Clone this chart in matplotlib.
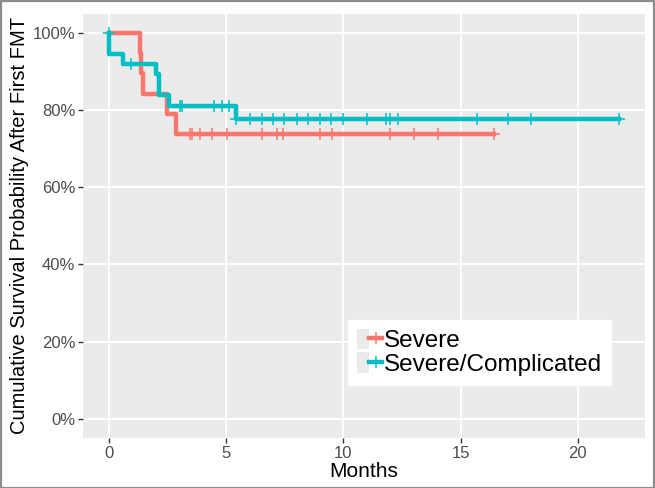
import numpy as np
import matplotlib
matplotlib.use("Agg")
import matplotlib.pyplot as plt
from matplotlib.lines import Line2D
from matplotlib.patches import Patch, Rectangle
from matplotlib.legend_handler import HandlerTuple
from matplotlib.ticker import FuncFormatter

plt.rcParams['font.family'] = ['Liberation Sans', 'DejaVu Sans']

# ---- data ----
groups = ["Severe", "Severe/Complicated"]
colors = ["#F8766D", "#00BFC4"]

sev_times = [0.0, 1.32, 1.38, 1.45, 2.47, 2.88]
sev_surv = [1.0, 0.947, 0.895, 0.842, 0.789, 0.737]
sev_end = 16.42
sev_cens = [3.48, 3.57, 3.91, 4.41, 5.06, 6.53, 7.17, 7.45, 9.02, 9.54,
            12.0, 13.0, 14.03, 16.42]

comp_times = [0.0, 0.02, 0.60, 2.03, 2.13, 2.57, 5.43]
comp_surv = [1.0, 0.946, 0.919, 0.892, 0.838, 0.811, 0.776]
comp_end = 21.77
comp_cens = [0.0, 0.97, 3.03, 3.15, 4.49, 4.82, 5.14, 5.45, 6.03, 6.53, 7.0,
             7.48, 8.02, 8.52, 8.99, 9.47, 9.99, 11.01, 11.84, 12.01, 12.34,
             15.71, 17.03, 17.99, 21.77]

x_ticks = [0, 5, 10, 15, 20]
y_ticks = [0, 0.2, 0.4, 0.6, 0.8, 1.0]

# ---- figure ----
fig = plt.figure(figsize=(6.55, 4.88), dpi=100)
ax = fig.add_axes([83/655, 1-438/488, (645-83)/655, (438-13.5)/488])
ax.set_facecolor("#EBEBEB")
for s in ax.spines.values():
    s.set_visible(False)
ax.grid(True, color="white", linewidth=1.4)
ax.set_axisbelow(True)

LW = 3.2
series = [
    (sev_times, sev_surv, sev_end, sev_cens),
    (comp_times, comp_surv, comp_end, comp_cens),
]
handles = []
for (t, s, end, cens), col, name in zip(series, colors, groups):
    tt = list(t) + [end]
    ss = list(s) + [s[-1]]
    ax.step(tt, ss, where="post", color=col, linewidth=LW, zorder=3)
    idx = np.searchsorted(np.array(t), np.array(cens), side="right") - 1
    cy = np.array(s)[idx]
    ax.plot(cens, cy, linestyle="none", marker="+", markersize=8,
            markeredgewidth=1.1, color=col, zorder=4)
    h = (Patch(facecolor="#EBEBEB", edgecolor="none"),
         Line2D([], [], color=col, linewidth=LW, marker="+",
                markersize=8, markeredgewidth=1.1))
    handles.append(h)

xmax = comp_end
ax.set_xlim(-0.05 * xmax, xmax * 1.05)
ax.set_ylim(-0.05, 1.05)
ax.set_xticks(x_ticks)
ax.set_yticks(y_ticks)
ax.yaxis.set_major_formatter(FuncFormatter(lambda v, p: f"{int(round(v*100))}%"))
ax.tick_params(axis="both", length=3.5, width=1.0, color="#333333",
               labelcolor="#4D4D4D", labelsize=12, pad=2)

ax.set_xlabel("Months", fontsize=15, color="black", labelpad=1)
ax.set_ylabel("Cumulative Survival Probability After First FMT", fontsize=14.5,
              color="black", labelpad=3)

leg = ax.legend(handles, groups, handler_map={tuple: HandlerTuple(ndivide=None, pad=0)},
                loc="upper left", bbox_to_anchor=((348-83)/(645-83), 1-(320-13.5)/(438-13.5)),
                frameon=True, fancybox=False, facecolor="white", edgecolor="white",
                framealpha=1, fontsize=17.5, handlelength=1.05, handleheight=0.95,
                handletextpad=0.08, labelspacing=0.0, borderpad=0.35, borderaxespad=0)

# outer grey frame
fig.patches.append(Rectangle((0.001, 0.001), 0.997, 0.997, transform=fig.transFigure,
                             fill=False, edgecolor="#8C8C8C", linewidth=1.6))

fig.savefig("out.png", dpi=100)
